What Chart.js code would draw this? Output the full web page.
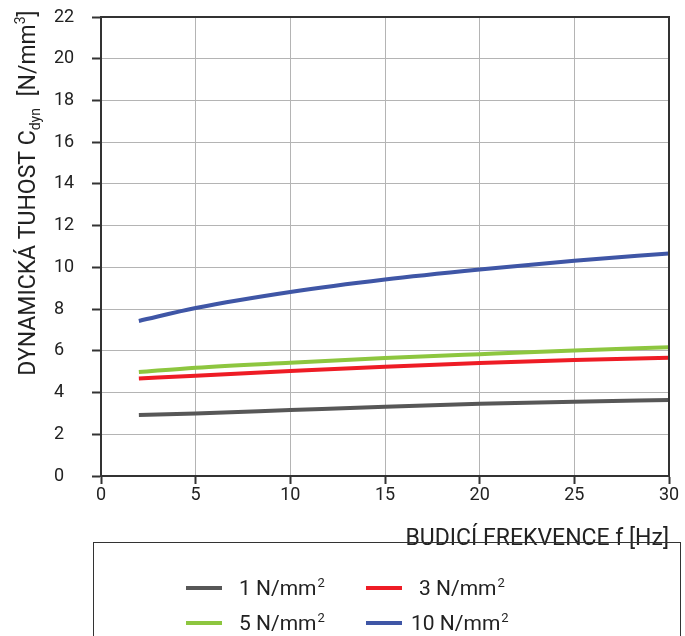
<!DOCTYPE html>
<html><head><meta charset="utf-8">
<script src="https://cdn.jsdelivr.net/npm/chart.js@4.4.1/dist/chart.umd.min.js"></script>
<style>
html,body{margin:0;padding:0;background:#fff;}
#wrap{position:relative;width:685px;height:636px;overflow:hidden;}
#legend{position:absolute;left:93px;top:542px;width:588px;height:120px;border:1.5px solid #333;box-sizing:border-box;font-family:Roboto,sans-serif;font-size:21px;color:#222;}
.item{position:absolute;height:30px;line-height:30px;}
.sw{position:absolute;width:36px;height:4px;top:13px;left:0;}
.lt{position:absolute;top:0;white-space:nowrap;}
sup{font-size:13px;vertical-align:top;position:relative;top:-5px;margin-left:1px;}
</style></head><body>
<div id="wrap">
<canvas id="c" width="685" height="636"></canvas>
<div id="legend"></div>
</div>
<script>
const freq = [2, 5, 10, 15, 20, 25, 30];
const s1 = [2.92, 3.00, 3.16, 3.32, 3.46, 3.56, 3.64];
const s3 = [4.67, 4.81, 5.03, 5.24, 5.42, 5.56, 5.67];
const s5 = [4.98, 5.19, 5.43, 5.65, 5.84, 6.02, 6.17];
const s10 = [7.43, 8.05, 8.82, 9.42, 9.90, 10.32, 10.67];
const seriesNames = ['1 N/mm', '3 N/mm', '5 N/mm', '10 N/mm'];
const colors = ['#575757', '#ee1c25', '#8dc63f', '#3f56a6'];
const xTicks = [0, 5, 10, 15, 20, 25, 30];
const yTicks = [0, 2, 4, 6, 8, 10, 12, 14, 16, 18, 20, 22];

const allSeries = [s1, s3, s5, s10];
const datasets = allSeries.map((s, i) => ({
  label: seriesNames[i],
  data: freq.map((f, j) => ({x: f, y: s[j]})),
  borderColor: colors[i],
  borderWidth: 4,
  pointRadius: 0,
  cubicInterpolationMode: 'monotone',
  fill: false
}));
const FONT = 'Roboto, sans-serif';

const framePlugin = {
  id: 'frame',
  afterDraw(chart) {
    const ctx = chart.ctx, a = chart.chartArea;
    ctx.save();
    ctx.strokeStyle = '#333';
    ctx.lineWidth = 2;
    ctx.strokeRect(a.left, a.top, a.right - a.left, a.bottom - a.top);
    // x title
    ctx.fillStyle = '#222';
    ctx.font = '23px ' + FONT;
    ctx.textAlign = 'right';
    ctx.textBaseline = 'alphabetic';
    ctx.fillText('BUDICÍ FREKVENCE f [Hz]', a.right, 545);
    // y title rotated
    const parts = [
      {t: 'DYNAMICKÁ TUHOST C', s: 23, dy: 0},
      {t: 'dyn', s: 14, dy: 5},
      {t: '  [N/mm', s: 23, dy: 0},
      {t: '3', s: 14, dy: -10},
      {t: ']', s: 23, dy: 0}
    ];
    let total = 0;
    parts.forEach(p => { ctx.font = p.s + 'px ' + FONT; p.w = ctx.measureText(p.t).width; total += p.w; });
    ctx.translate(35, 193);
    ctx.rotate(-Math.PI / 2);
    ctx.textAlign = 'left';
    let x = -total / 2;
    parts.forEach(p => { ctx.font = p.s + 'px ' + FONT; ctx.fillText(p.t, x, p.dy); x += p.w; });
    ctx.restore();
  }
};

new Chart(document.getElementById('c'), {
  type: 'line',
  data: {datasets},
  options: {
    responsive: false,
    animation: false,
    layout: {padding: {left: 54, right: 16, top: 17, bottom: 0}},
    plugins: {legend: {display: false}, tooltip: {enabled: false}},
    scales: {
      x: {
        type: 'linear', min: 0, max: 30,
        afterBuildTicks: s => { s.ticks = xTicks.map(v => ({value: v})); },
        afterFit: s => { s.height = 160; },
        grid: {color: '#b4b4b4', lineWidth: 1, tickColor: '#333', tickLength: 8, tickWidth: 2},
        border: {color: '#333', width: 2},
        ticks: {color: '#222', font: {family: FONT, size: 18}, padding: 1, maxRotation: 0}
      },
      y: {
        min: 0, max: 22,
        afterBuildTicks: s => { s.ticks = yTicks.map(v => ({value: v})); },
        afterFit: s => { s.width = 47; },
        grid: {color: '#b4b4b4', lineWidth: 1, tickColor: '#333', tickLength: 9, tickWidth: 2},
        border: {color: '#333', width: 2},
        ticks: {color: '#222', font: {family: FONT, size: 18}, padding: 0, crossAlign: 'far'}
      }
    }
  },
  plugins: [framePlugin]
});

// HTML legend
const leg = document.getElementById('legend');
const pos = [
  {l: 92, t: 45, tx: 145}, {l: 272, t: 45, tx: 325},
  {l: 92, t: 80, tx: 145}, {l: 272, t: 80, tx: 317}
];
seriesNames.forEach((n, i) => {
  const d = document.createElement('div');
  d.className = 'item';
  d.style.left = pos[i].l + 'px';
  d.style.top = (pos[i].t - 15) + 'px';
  d.innerHTML = '<div class="sw" style="background:' + colors[i] + '"></div><div class="lt" style="left:' + (pos[i].tx - pos[i].l) + 'px">' + n + '<sup>2</sup></div>';
  leg.appendChild(d);
});
</script>
</body></html>
